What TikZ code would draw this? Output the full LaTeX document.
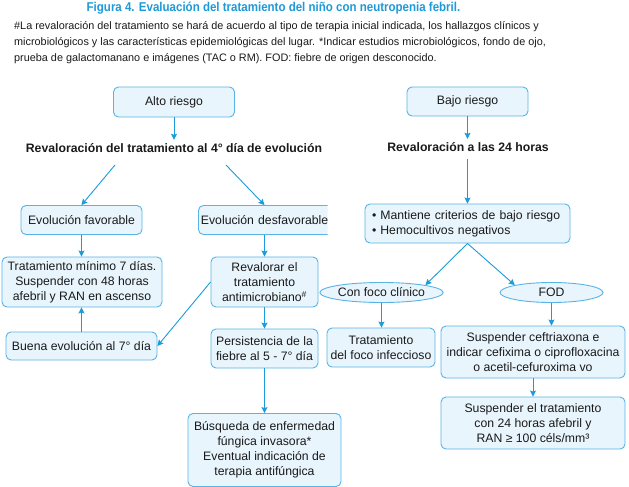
\documentclass[tikz,border=0pt]{standalone}
\usepackage{fontspec}
\setmainfont{Liberation Sans}
\newfontfamily\titlefont[FakeStretch=0.9]{Liberation Sans}
\usetikzlibrary{shapes.geometric,arrows.meta}
\definecolor{arrc}{HTML}{1C9BDB}
\definecolor{bordc}{HTML}{58B4E7}
\definecolor{fillc}{HTML}{E9F5FD}
\definecolor{txtc}{HTML}{1A1A1A}
\definecolor{titc}{HTML}{1E9AD8}
\begin{document}
\begin{tikzpicture}[x=1pt,y=-1pt,
  box/.style={draw=bordc, fill=fillc, line width=0.9pt, rounded corners=5pt, align=center,
    inner sep=2pt, font=\fontsize{12.25}{15}\selectfont, text=txtc},
  ell/.style={ellipse, draw=bordc, fill=fillc, line width=0.9pt, inner sep=0pt,
    font=\fontsize{12.25}{15}\selectfont, text=txtc},
  head/.style={font=\bfseries\fontsize{12.25}{15}\selectfont, text=txtc, inner sep=0pt,
    text height=9pt, text depth=3pt},
  arr/.style={draw=arrc, line width=0.9pt, -{Stealth[length=6pt,width=6pt,inset=1pt]}},
]
\useasboundingbox[fill=white] (0,0) rectangle (629,487);

% title and note
\node[font=\titlefont\bfseries\fontsize{12.8}{15}\selectfont, text=titc, inner sep=0pt] (title) at (273.5,8)
  {Figura 4. Evaluación del tratamiento del niño con neutropenia febril.};
\node[anchor=west, align=left, font=\fontsize{10.85}{15.7}\selectfont, text=txtc, inner sep=0pt] (note) at (14,42.5)
  {\#La revaloración del tratamiento se hará de acuerdo al tipo de terapia inicial indicada, los hallazgos clínicos y\\
   microbiológicos y las características epidemiológicas del lugar. *Indicar estudios microbiológicos, fondo de ojo,\\
   prueba de galactomanano e imágenes (TAC o RM). FOD: fiebre de origen desconocido.};

% left branch
\node[box, minimum width=121pt, minimum height=30pt] (alto) at (174,102) {Alto riesgo};
\node[head] (reva4) at (174,149) {Revaloración del tratamiento al 4° día de evolución};
\coordinate (r4l) at (115,165);
\coordinate (r4r) at (226,165);
\node[box, minimum width=121pt, minimum height=29pt] (fav) at (81.5,220) {Evolución favorable};
\begin{scope}
  \clip (190,195) rectangle (327.5,240);
  \node[box, minimum width=145pt, minimum height=29pt, anchor=west, align=left,
    inner xsep=2.5pt, text width=140pt] (desf) at (198,220) {Evolución desfavorable};
\end{scope}
\node[box, minimum width=160pt, minimum height=50pt] (trat7) at (82,282)
  {Tratamiento mínimo 7 días.\\Suspender con 48 horas\\afebril y RAN en ascenso};
\node[box, minimum width=107pt, minimum height=50pt] (reval) at (264.5,282)
  {Revalorar el\\tratamiento\\antimicrobiano\textsuperscript{\#}};
\node[box, minimum width=151pt, minimum height=28pt] (buena) at (81.5,346) {Buena evolución al 7° día};
\node[box, minimum width=107pt, minimum height=39pt] (pers) at (264.5,348.5)
  {Persistencia de la\\fiebre al 5 - 7° día};
\node[box, minimum width=153pt, minimum height=73pt] (busq) at (264.5,450)
  {Búsqueda de enfermedad\\fúngica invasora*\\Eventual indicación de\\terapia antifúngica};

% right branch
\node[box, minimum width=121pt, minimum height=29pt] (bajo) at (467.5,101.5) {Bajo riesgo};
\node[head] (reva24) at (468,148) {Revaloración a las 24 horas};
\node[box, minimum width=205pt, minimum height=39pt, align=left, inner xsep=7pt, text width=191pt] (mant) at (467.5,223.5)
  {• Mantiene criterios de bajo riesgo\\• Hemocultivos negativos};
\node[ell, minimum width=103pt, minimum height=20pt] (foco) at (381.5,292.5) {Con foco clínico};
\node[ell, minimum width=103pt, minimum height=20pt] (fod) at (551.5,292.5) {FOD};
\node[box, minimum width=108pt, minimum height=39pt] (tfoco) at (381,347.5)
  {Tratamiento\\del foco infeccioso};
\node[box, minimum width=184pt, minimum height=52pt] (susp1) at (533,352)
  {Suspender ceftriaxona e\\indicar cefixima o ciprofloxacina\\o acetil-cefuroxima vo};
\node[box, minimum width=184pt, minimum height=52pt] (susp2) at (533,423)
  {Suspender el tratamiento\\con 24 horas afebril y\\RAN ≥ 100 céls/mm³};

% connectors
\draw[arr, shorten >=3pt] (alto.south) -- (alto.south |- reva4.north);
\draw[arr] (r4l) -- (fav.north);
\draw[arr] (r4r) -- (desf.north -| reval.north);
\draw[arr] (fav.south) -- (fav.south |- trat7.north);
\draw[arr] (desf.south -| reval.north) -- (reval.north);
\draw[arr] (reval.west) -- (buena.east);
\draw[arr] (buena.north) -- (buena.north |- trat7.south);
\draw[arr] (reval.south) -- (pers.north);
\draw[arr] (pers.south) -- (pers.south |- busq.north);

\draw[arr, shorten >=3pt] (bajo.south) -- (bajo.south |- reva24.north);
\draw[arr, shorten <=5pt] (reva24.south -| mant.north) -- (mant.north);
\draw[arr] (mant.south) -- (foco.north east);
\draw[arr] (mant.south) -- (fod.north west);
\draw[arr] (foco.south) -- (foco.south |- tfoco.north);
\draw[arr] (fod.south) -- (fod.south |- susp1.north);
\draw[arr] (susp1.south) -- (susp2.north);
\end{tikzpicture}
\end{document}
